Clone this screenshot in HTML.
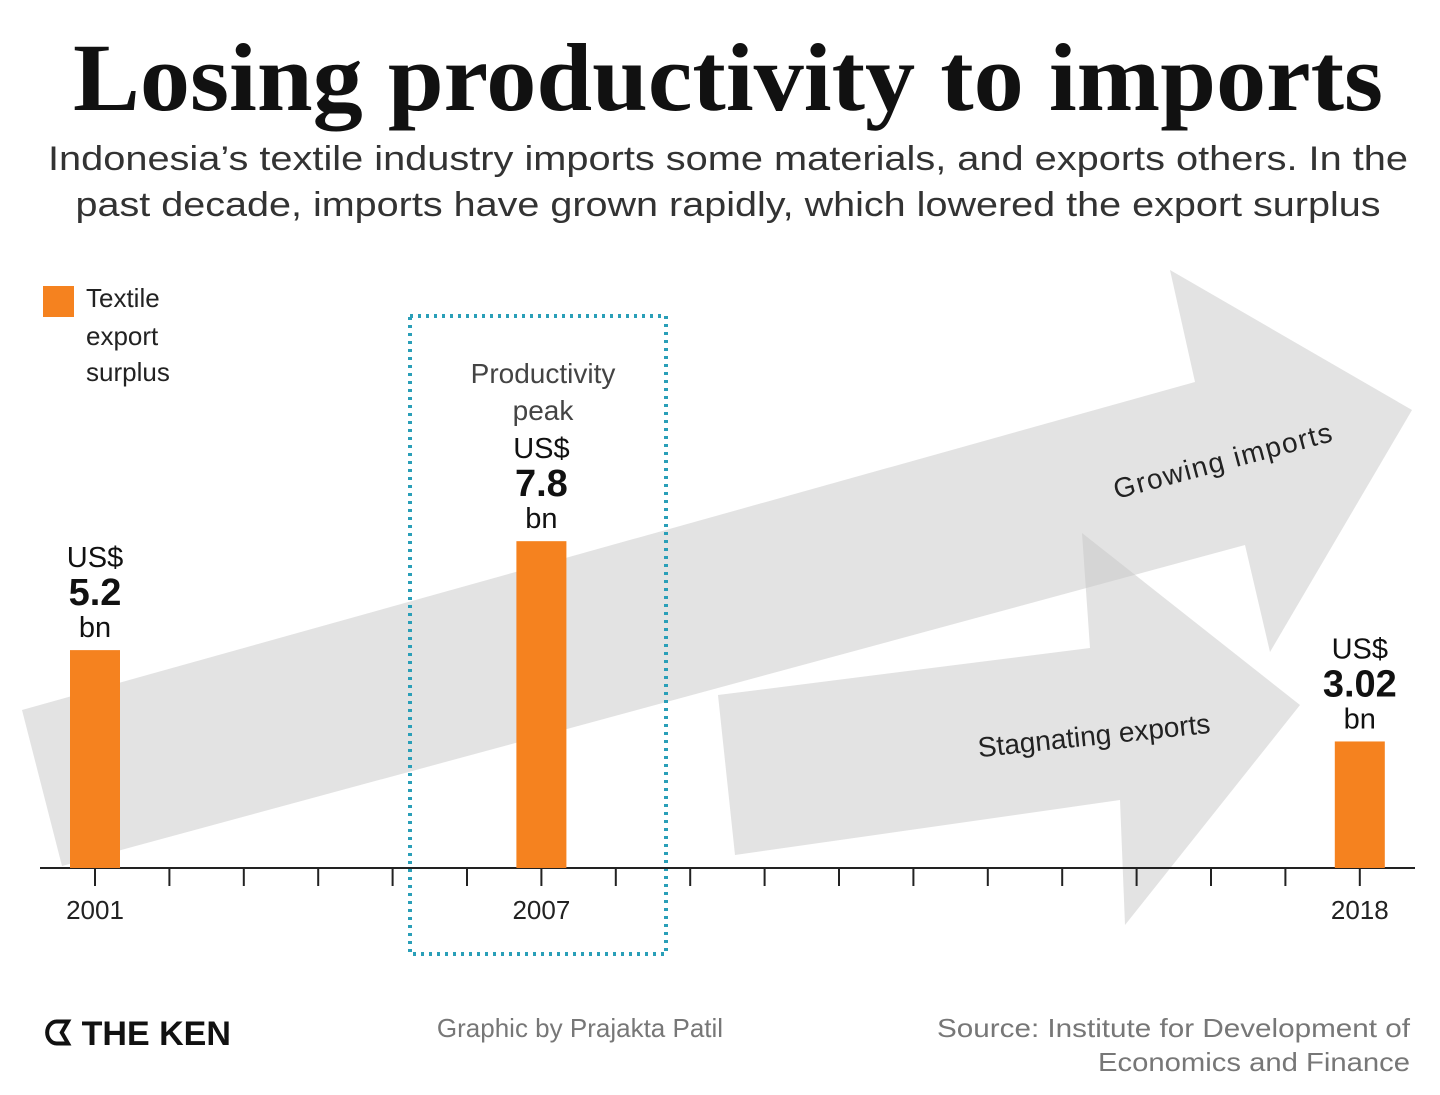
<!DOCTYPE html>
<html><head><meta charset="utf-8"><style>
body{margin:0;background:#fff;}
svg{display:block;font-family:"Liberation Sans",sans-serif;}
</style></head><body>
<svg width="1440" height="1095" viewBox="0 0 1440 1095">
<text x="728" y="110" text-anchor="middle" font-family="Liberation Serif" font-weight="bold" font-size="96" textLength="1310" lengthAdjust="spacingAndGlyphs" fill="#111">Losing productivity to imports</text>
<text x="728" y="170" text-anchor="middle" font-size="34" fill="#333" textLength="1360" lengthAdjust="spacingAndGlyphs">Indonesia’s textile industry imports some materials, and exports others. In the</text>
<text x="728" y="216" text-anchor="middle" font-size="34" fill="#333" textLength="1305" lengthAdjust="spacingAndGlyphs">past decade, imports have grown rapidly, which lowered the export surplus</text>

<polygon points="22,710 1195,382 1170,270 1412,410 1270,652 1245,545 62,866" fill="rgba(200,200,200,0.5)"/>
<polygon points="718,695 1090,648 1082,533 1300,705 1125,925 1120,800 735,855" fill="rgba(200,200,200,0.5)"/>
<text x="1225" y="470" text-anchor="middle" font-size="28" fill="#222" textLength="225" transform="rotate(-15 1225 470)">Growing imports</text>
<text x="1095" y="745" text-anchor="middle" font-size="28" fill="#222" transform="rotate(-6 1095 745)">Stagnating exports</text>

<rect x="410" y="316" width="256" height="638" fill="none" stroke="#2a9fb8" stroke-width="4" stroke-dasharray="3,5"/>
<text x="543" y="383" text-anchor="middle" font-size="28" fill="#444">Productivity</text>
<text x="543" y="420" text-anchor="middle" font-size="28" fill="#444">peak</text>

<rect x="43" y="286" width="31" height="31" fill="#f5821f"/>
<text font-size="26" fill="#222"><tspan x="86" y="307">Textile</tspan><tspan x="86" y="345">export</tspan><tspan x="86" y="381">surplus</tspan></text>

<g id="axis"></g>
<g id="bars"></g>

<text x="44" y="1045" font-size="34" font-weight="bold" fill="#111">ᗧ THE KEN</text>
<text x="580" y="1037" text-anchor="middle" font-size="26" fill="#777">Graphic by Prajakta Patil</text>
<text x="937" y="1037" font-size="26" fill="#777" textLength="473" lengthAdjust="spacingAndGlyphs">Source: Institute for Development of</text>
<text x="1098" y="1071" font-size="26" fill="#777" textLength="312" lengthAdjust="spacingAndGlyphs">Economics and Finance</text>
</svg>
<script>
const years=[2001,2007,2018];
const values=[5.2,7.8,3.02];
const valueLabels=["5.2","7.8","3.02"];
const x0=95, dx=74.4, baseY=868, k=41.9, bw=50;
const NS="http://www.w3.org/2000/svg";
function xs(y){return x0+(y-2001)*dx;}
function ys(v){return baseY-v*k;}
function mk(t,a,p,txt){const e=document.createElementNS(NS,t);for(const n in a)e.setAttribute(n,a[n]);if(txt!=null)e.textContent=txt;p.appendChild(e);return e;}
const ax=document.getElementById('axis'), bg=document.getElementById('bars');
const ln=mk('line',{x1:40,x2:1415,y1:baseY,y2:baseY,stroke:'#222','stroke-width':2},ax);


for(let y=2001;y<=2018;y++){
  const t=mk('line',{x1:xs(y),x2:xs(y),y1:baseY,y2:baseY+18,stroke:'#222','stroke-width':2},ax);
  
  
}
years.forEach((yr,i)=>{
  const x=xs(yr), top=ys(values[i]);
  const r=mk('rect',{x:x-bw/2,y:top,width:bw,height:baseY-top,fill:'#f5821f'},bg);
  
  
  const tl=mk('text',{x:x,y:919,'text-anchor':'middle','font-size':26,fill:'#222'},ax,String(yr));
  
  
  const g=mk('text',{'text-anchor':'middle',fill:'#111'},bg);
  
  
  mk('tspan',{x:x,y:top-83,'font-size':29},g,'US$');
  mk('tspan',{x:x,y:top-45,'font-size':38,'font-weight':'bold'},g,valueLabels[i]);
  mk('tspan',{x:x,y:top-13,'font-size':29},g,'bn');
});
</script>
</body></html>
